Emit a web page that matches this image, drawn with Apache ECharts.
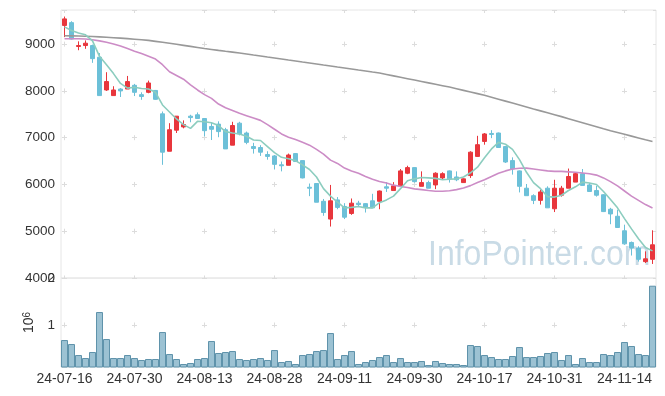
<!DOCTYPE html>
<html><head><meta charset="utf-8">
<script src="https://cdn.jsdelivr.net/npm/echarts@6/dist/echarts.min.js"></script>
<style>html,body{margin:0;padding:0;background:#fff}#c{width:665px;height:396px}</style>
</head><body><div id="c"></div>
<script>
const dates = [
 '24-07-16','24-07-17','24-07-18','24-07-19','24-07-22','24-07-23','24-07-24','24-07-25','24-07-26','24-07-29',
 '24-07-30','24-07-31','24-08-01','24-08-02','24-08-05','24-08-06','24-08-07','24-08-08','24-08-09','24-08-12',
 '24-08-13','24-08-14','24-08-16','24-08-19','24-08-20','24-08-21','24-08-22','24-08-23','24-08-26','24-08-27',
 '24-08-28','24-08-29','24-08-30','24-09-02','24-09-03','24-09-04','24-09-05','24-09-06','24-09-09','24-09-10',
 '24-09-11','24-09-12','24-09-13','24-09-19','24-09-20','24-09-23','24-09-24','24-09-25','24-09-26','24-09-27',
 '24-09-30','24-10-02','24-10-04','24-10-07','24-10-08','24-10-10','24-10-11','24-10-14','24-10-15','24-10-16',
 '24-10-17','24-10-18','24-10-21','24-10-22','24-10-23','24-10-24','24-10-25','24-10-28','24-10-29','24-10-30',
 '24-10-31','24-11-01','24-11-04','24-11-05','24-11-06','24-11-07','24-11-08','24-11-11','24-11-12','24-11-13',
 '24-11-14','24-11-15','24-11-18','24-11-19','24-11-20'];
const openP = [
 9400,9460,8950,8970,8970,8720,8020,7900,8040,8040,
 8120,7920,7970,8010,7510,6710,7160,7230,7460,7490,
 7410,7240,7290,7170,6840,7310,7100,6810,6790,6640,
 6610,6420,6410,6660,6510,5940,6020,5640,5260,5670,
 5530,5380,5600,5590,5650,5640,5950,5870,5970,6240,
 6360,5960,6040,5990,6140,6290,6160,6040,6190,6600,
 6920,7090,7100,6810,6510,6290,5920,5760,5660,5920,
 5480,5770,5920,6050,6230,5990,5870,5780,5470,5320,
 5010,4760,4640,4350,4400];
const closeP = [
 9540,9110,8970,9020,8690,7900,8200,8020,8000,8200,
 7970,7880,8170,7820,6690,7170,7460,7280,7430,7410,
 7150,7180,7130,6760,7260,7080,6900,6770,6690,6600,
 6430,6400,6630,6490,6140,5920,5620,5400,5650,5510,
 5300,5600,5570,5510,5500,5860,5920,5970,6290,6360,
 6060,6040,5920,6240,6230,6120,6100,6120,6690,6850,
 7080,7070,6790,6480,6330,5960,5760,5660,5840,5500,
 5920,5920,6170,6230,5980,5850,5770,5420,5370,5080,
 4730,4640,4400,4410,4710];
const lowP = [
 9150,9100,8870,8900,8600,7900,8000,7900,7870,8040,
 7890,7810,7950,7810,6420,6710,7100,7200,7330,7400,
 7030,6950,7010,6760,6840,7050,6860,6660,6610,6530,
 6320,6280,6410,6490,6130,5750,5620,5330,5100,5470,
 5260,5350,5540,5400,5500,5470,5840,5870,5960,6220,
 6040,5960,5920,5900,6100,6040,6070,6040,6140,6590,
 6850,6990,6790,6460,6210,5830,5760,5580,5570,5500,
 5410,5740,5920,6050,5980,5840,5740,5410,5150,5080,
 4710,4480,4350,4320,4300];
const highP = [
 9590,9490,9060,9080,8990,8810,8400,8100,8060,8320,
 8150,7970,8220,8020,7560,7310,7460,7370,7490,7540,
 7420,7320,7350,7210,7340,7340,7130,6890,6840,6710,
 6630,6490,6660,6670,6510,6020,6030,5690,5990,5730,
 5600,5700,5650,5600,5800,5870,6050,6050,6330,6400,
 6370,6280,6080,6260,6260,6300,6280,6130,6710,7040,
 7100,7160,7110,6820,6580,6300,6010,5790,5890,5960,
 6100,5970,6340,6260,6330,6030,5970,5790,5500,5460,
 5140,4780,4680,4570,5020];
const ma5 = [
 9370,9290,9240,9200,9070,8740,8560,8370,8160,8060,
 8080,8050,8040,7970,7700,7550,7400,7280,7200,7350,
 7340,7320,7260,7130,7100,7080,7030,6950,6940,6810,
 6680,6580,6550,6510,6420,6320,6160,5910,5750,5620,
 5500,5510,5530,5500,5500,5610,5670,5750,5910,6080,
 6120,6150,6140,6130,6100,6110,6120,6160,6250,6370,
 6570,6760,6900,6860,6750,6530,6260,6040,5910,5740,
 5730,5770,5870,5950,6050,6030,6000,5850,5680,5500,
 5270,5050,4840,4650,4580];
const ma20 = [
 9115,9115,9115,9110,9095,9070,9040,9005,8960,8905,
 8850,8800,8740,8680,8560,8410,8330,8250,8130,8020,
 7920,7840,7720,7640,7580,7520,7470,7420,7370,7280,
 7180,7080,7010,6960,6900,6840,6750,6650,6520,6450,
 6350,6290,6240,6170,6110,6065,6030,5985,5955,5935,
 5905,5890,5870,5855,5855,5865,5890,5925,5975,6040,
 6100,6170,6240,6290,6330,6345,6350,6330,6310,6290,
 6280,6280,6270,6260,6245,6230,6200,6140,6060,5970,
 5860,5750,5660,5570,5495];
const ma120 = [
 9180,9177,9173,9168,9162,9155,9147,9138,9128,9117,
 9105,9093,9080,9060,9040,9018,8996,8974,8952,8930,
 8908,8887,8866,8847,8829,8810,8789,8767,8746,8724,
 8703,8682,8660,8639,8617,8596,8575,8553,8532,8510,
 8489,8468,8446,8425,8403,8382,8352,8322,8292,8262,
 8232,8202,8172,8142,8112,8082,8047,8012,7977,7942,
 7907,7866,7824,7782,7740,7698,7656,7614,7573,7532,
 7491,7450,7407,7364,7321,7278,7235,7192,7150,7111,
 7072,7033,6994,6955,6920];
const volume = [
 0.680,0.595,0.361,0.297,0.425,1.276,0.701,0.297,0.297,0.361,
 0.297,0.255,0.276,0.276,0.850,0.382,0.276,0.170,0.191,0.276,
 0.297,0.659,0.404,0.425,0.446,0.276,0.255,0.276,0.297,0.255,
 0.467,0.212,0.234,0.170,0.361,0.382,0.446,0.467,0.829,0.276,
 0.361,0.446,0.170,0.212,0.255,0.318,0.361,0.212,0.297,0.212,
 0.212,0.234,0.148,0.234,0.191,0.170,0.170,0.148,0.574,0.553,
 0.361,0.318,0.276,0.276,0.340,0.531,0.318,0.318,0.340,0.404,
 0.425,0.255,0.361,0.170,0.297,0.212,0.212,0.382,0.361,0.425,
 0.638,0.553,0.382,0.361,1.836];
const priceMin = 4000, priceMax = 9730, priceStep = 1000;
const volMin = 0.106, volMax = 2, volStep = 1;

const FONT = '"Liberation Sans", Arial, sans-serif';
const crossColor = '#dcdcdc';
const frameColor = '#e6e6e6';
const candles = dates.map((d, i) => [openP[i], closeP[i], lowP[i], highP[i]]);

const chart = echarts.init(document.getElementById('c'), null, {renderer: 'canvas'});
chart.setOption({
  animation: false,
  textStyle: {fontFamily: FONT},
  graphic: [{
    type: 'text', left: 428, top: 238, z: 0, scaleY: 1.1,
    style: {text: 'InfoPointer.com', font: '32px "Liberation Sans", Arial, sans-serif', fill: '#c9dbe6'}
  }],
  grid: [
    {left: 61, right: 9, top: 10, height: 268, show: true, borderColor: frameColor, borderWidth: 1},
    {left: 61, right: 9, top: 278, height: 89, show: true, borderColor: frameColor, borderWidth: 1}
  ],
  xAxis: [
    {type: 'category', gridIndex: 0, data: dates, boundaryGap: true, position: 'top',
     axisLine: {show: false},
     axisTick: {show: true, inside: true, length: 3, interval: 9, alignWithLabel: true, lineStyle: {color: crossColor}},
     axisLabel: {show: false},
     splitLine: {show: true, interval: 9, alignWithLabel: true,
       lineStyle: {color: crossColor, width: 1, type: [5, 41.77], dashOffset: 15.13}}},
    {type: 'category', gridIndex: 1, data: dates, boundaryGap: true,
     axisLine: {show: false}, axisTick: {show: false},
     axisLabel: {interval: 9, fontSize: 14, color: '#333', margin: 5, fontFamily: FONT},
     splitLine: {show: true, interval: 9, alignWithLabel: true,
       lineStyle: {color: crossColor, width: 1, type: [5, 200], dashOffset: 160.5}}}
  ],
  yAxis: [
    {type: 'value', gridIndex: 0, min: priceMin, max: priceMax,
     minInterval: priceStep, maxInterval: priceStep, splitNumber: 6,
     axisLine: {show: false},
     axisTick: {show: false},
     axisLabel: {fontSize: 13.5, color: '#333', margin: 6, showMaxLabel: false, fontFamily: FONT,
       formatter: v => (v % priceStep === 0 ? String(v) : '')},
     splitLine: {show: true, lineStyle: {color: crossColor, width: 1, type: [5, 65], dashOffset: 69}}},
    {type: 'value', gridIndex: 1, min: volMin, max: volMax,
     minInterval: volStep, maxInterval: volStep, splitNumber: 2,
     axisLine: {show: false}, axisTick: {show: false},
     name: '10{s|6}', nameLocation: 'middle', nameRotate: 90, nameGap: 15,
     nameTextStyle: {fontSize: 14, color: '#333', fontFamily: FONT,
       rich: {s: {fontSize: 10, verticalAlign: 'top', color: '#333', fontFamily: FONT}}},
     axisLabel: {fontSize: 13.5, color: '#333', margin: 6, showMinLabel: false, fontFamily: FONT,
       formatter: v => (Math.abs(v - Math.round(v)) < 1e-9 && v > 0 ? String(Math.round(v)) : '')},
     splitLine: {show: true, lineStyle: {color: crossColor, width: 1, type: [5, 65], dashOffset: 69}}},
    {type: 'value', gridIndex: 0, position: 'right', min: priceMin, max: priceMax,
     minInterval: priceStep, maxInterval: priceStep, splitNumber: 6,
     axisLine: {show: false}, axisLabel: {show: false}, splitLine: {show: false},
     axisTick: {show: true, inside: true, length: 3, lineStyle: {color: crossColor}}}
  ],
  series: [
    {type: 'candlestick', xAxisIndex: 0, yAxisIndex: 0, data: candles, barWidth: 5,
     itemStyle: {color: '#e8363c', color0: '#6cc0d8', borderColor: '#e8363c', borderColor0: '#6cc0d8', borderWidth: 1}},
    {type: 'line', xAxisIndex: 0, yAxisIndex: 0, data: ma120, showSymbol: false, symbol: 'none',
     lineStyle: {color: '#999999', width: 1.6}},
    {type: 'line', xAxisIndex: 0, yAxisIndex: 0, data: ma20, showSymbol: false, symbol: 'none',
     lineStyle: {color: '#cc8cc6', width: 1.6}},
    {type: 'line', xAxisIndex: 0, yAxisIndex: 0, data: ma5, showSymbol: false, symbol: 'none',
     lineStyle: {color: '#8ccdbf', width: 1.6}},
    {type: 'bar', xAxisIndex: 1, yAxisIndex: 1, data: volume, barCategoryGap: '0%', barWidth: 7,
     itemStyle: {color: '#9cc2d3', borderColor: '#5f93ab', borderWidth: 1}}
  ]
});
</script></body></html>
